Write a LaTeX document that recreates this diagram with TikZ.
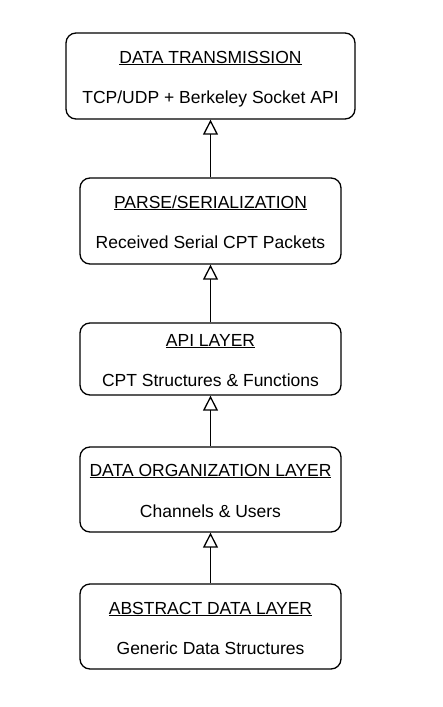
\documentclass[tikz,border=0pt]{standalone}
\usepackage{fontspec}
\setmainfont{Liberation Sans}
\usetikzlibrary{arrows.meta}
\begin{document}
\begin{tikzpicture}[x=1pt,y=-1pt,
  box/.style={draw, rounded corners=10pt, line width=1.3pt, inner sep=0pt, fill=white},
  lbl/.style={font=\fontsize{17.5}{20}\selectfont, inner sep=0pt, anchor=base},
  inh/.style={-{Triangle[open,length=15pt,width=15pt]}, line width=1.3pt}]
\useasboundingbox[fill=white] (0,0) rectangle (442,707);
\node[box, minimum width=289pt, minimum height=86pt] (b1) at (210.5,76) {};
\node[box, minimum width=261pt, minimum height=86pt] (b2) at (210.5,221) {};
\node[box, minimum width=261pt, minimum height=72pt] (b3) at (210.5,359) {};
\node[box, minimum width=261pt, minimum height=85pt] (b4) at (210.5,489.5) {};
\node[box, minimum width=261pt, minimum height=85pt] (b5) at (210.5,626.5) {};
\node[lbl] (t1) at (210.5,63) {\underline{DATA TRANSMISSION}};
\node[lbl] (s1) at (210.5,103) {TCP/UDP + Berkeley Socket API};
\node[lbl] (t2) at (210.5,208) {\underline{PARSE/SERIALIZATION}};
\node[lbl] (s2) at (210.5,248) {Received Serial CPT Packets};
\node[lbl] (t3) at (210.5,346) {\underline{API LAYER}};
\node[lbl] (s3) at (210.5,386) {CPT Structures \& Functions};
\node[lbl] (t4) at (210.5,476) {\underline{DATA ORGANIZATION LAYER}};
\node[lbl] (s4) at (210.5,517) {Channels \& Users};
\node[lbl] (t5) at (210.5,614) {\underline{ABSTRACT DATA LAYER}};
\node[lbl] (s5) at (210.5,654) {Generic Data Structures};
\draw[inh] (b2.north) -- (b1.south);
\draw[inh] (b3.north) -- (b2.south);
\draw[inh] (b4.north) -- (b3.south);
\draw[inh] (b5.north) -- (b4.south);
\end{tikzpicture}
\end{document}
